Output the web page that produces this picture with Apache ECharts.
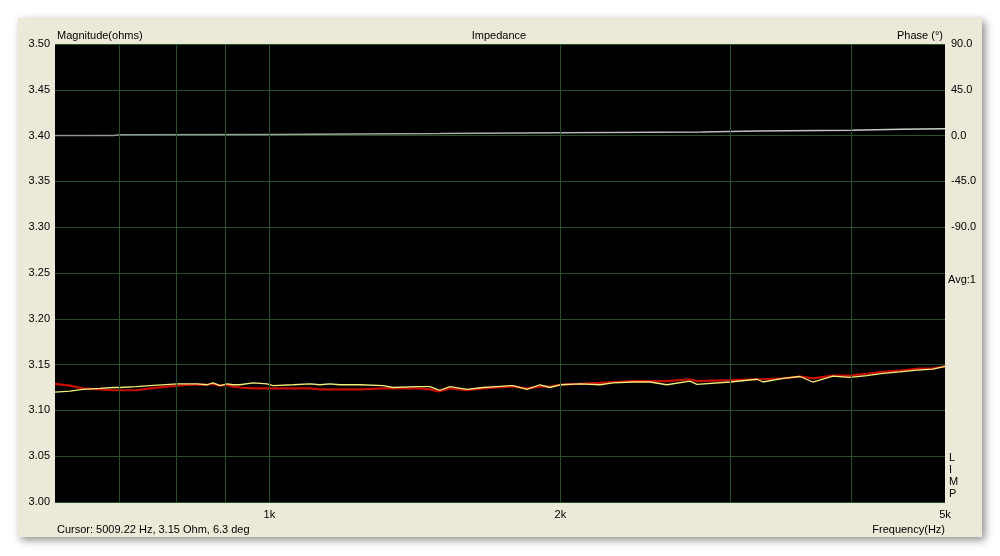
<!DOCTYPE html>
<html>
<head>
<meta charset="utf-8">
<script src="https://cdn.jsdelivr.net/npm/echarts@6/dist/echarts.min.js"></script>
<style>html,body{margin:0;padding:0;background:#fff;}#c{width:1000px;height:556px;}</style>
</head>
<body>
<div id="c"></div>
<script>
// Frequencies (Hz)
var freqs = [600,622,641,668,689,700,729,752,803,828,842,862,874,889,904,917,932,962,994,1009,1058,1102,1128,1155,1183,1212,1241,1311,1342,1421,1466,1491,1501,1537,1601,1663,1720,1774,1787,1847,1905,1951,1998,2096,2198,2267,2378,2476,2578,2723,2769,2996,3195,3241,3399,3539,3650,3828,3986,4151,4312,4491,4676,4857,5000];
// Magnitude (ohms) – yellow trace
var magYellow = [3.120,3.121,3.123,3.124,3.125,3.125,3.126,3.127,3.129,3.129,3.129,3.128,3.130,3.127,3.129,3.128,3.128,3.130,3.129,3.127,3.128,3.129,3.128,3.129,3.128,3.128,3.128,3.127,3.125,3.126,3.126,3.123,3.122,3.126,3.123,3.125,3.126,3.127,3.127,3.123,3.128,3.125,3.128,3.129,3.128,3.130,3.131,3.131,3.128,3.132,3.1285,3.131,3.134,3.131,3.135,3.137,3.131,3.1375,3.136,3.138,3.1405,3.142,3.144,3.145,3.148];
// Magnitude (ohms) – red trace
var magRed = [3.129,3.127,3.124,3.123,3.122,3.122,3.122,3.124,3.127,3.128,3.128,3.128,3.129,3.127,3.128,3.126,3.125,3.124,3.124,3.124,3.124,3.124,3.123,3.123,3.123,3.123,3.123,3.124,3.124,3.124,3.123,3.121,3.121,3.124,3.122,3.124,3.125,3.126,3.126,3.124,3.126,3.126,3.128,3.129,3.130,3.131,3.132,3.132,3.132,3.134,3.132,3.133,3.134,3.134,3.135,3.137,3.135,3.138,3.138,3.140,3.142,3.1435,3.1455,3.146,3.148];
// Phase (deg)
var phaseFreqs = [600,690,700,1000,1500,2000,2800,3200,4000,4500,5000];
var phaseVals = [0,0,0.8,1.2,2.0,2.8,3.6,4.6,5.3,6.2,6.8];
// Grid lines / tick labels
var freqGrid = [700,800,900,1000,2000,3000,4000];
var freqLabels = [1000,2000,5000];

var chart = echarts.init(document.getElementById('c'), null, {renderer:'canvas'});
var FONT = 'Liberation Sans, Arial, sans-serif';
var GRIDC = '#24502a';
function pairs(xs, ys){ return xs.map(function(x,i){return [x, ys[i]];}); }

chart.setOption({
  animation:false,
  backgroundColor:'#ffffff',
  textStyle:{fontFamily:FONT},
  graphic:[
    {type:'rect', z:-10, shape:{x:18,y:18,width:964,height:519},
     style:{fill:'#ece9d8', shadowBlur:8, shadowColor:'rgba(0,0,0,0.45)', shadowOffsetX:3, shadowOffsetY:3}},
    {type:'text', z:10, x:57, y:36, style:{text:'Magnitude(ohms)', fill:'#000', font:'11px '+FONT, verticalAlign:'middle'}},
    {type:'text', z:10, x:499, y:36, style:{text:'Impedance', fill:'#000', font:'11px '+FONT, align:'center', verticalAlign:'middle'}},
    {type:'text', z:10, x:943, y:36, style:{text:'Phase (°)', fill:'#000', font:'11px '+FONT, align:'right', verticalAlign:'middle'}},
    {type:'text', z:10, x:948, y:280, style:{text:'Avg:1', fill:'#000', font:'11px '+FONT, verticalAlign:'middle'}},
    {type:'text', z:10, x:949, y:452, style:{text:'L\nI\nM\nP', fill:'#000', font:'11px '+FONT, lineHeight:12, verticalAlign:'top'}},
    {type:'text', z:10, x:57, y:530, style:{text:'Cursor: 5009.22 Hz, 3.15 Ohm, 6.3 deg', fill:'#000', font:'11px '+FONT, verticalAlign:'middle'}},
    {type:'text', z:10, x:945, y:530, style:{text:'Frequency(Hz)', fill:'#000', font:'11px '+FONT, align:'right', verticalAlign:'middle'}}
  ],
  grid:{left:55, right:55, top:44, bottom:54, show:true, backgroundColor:'#000000', borderWidth:0},
  xAxis:{type:'log', logBase:10, min:600, max:5000,
    axisLine:{show:false}, axisTick:{show:false}, splitLine:{show:false},
    axisLabel:{customValues:freqLabels, showMaxLabel:true, showMinLabel:true, color:'#000', fontSize:11, fontFamily:FONT, margin:7,
      formatter:function(v){return Math.round(v/1000)+'k';}}
  },
  yAxis:[
    {type:'value', min:3.0, max:3.5, interval:0.05,
     axisLine:{show:false}, axisTick:{show:false},
     splitLine:{show:true, lineStyle:{color:GRIDC, width:1}},
     axisLabel:{color:'#000', fontSize:11, fontFamily:FONT, margin:5, formatter:function(v){return v.toFixed(2);}}},
    {type:'value', min:-360, max:90, interval:45, position:'right',
     axisLine:{show:false}, axisTick:{show:false}, splitLine:{show:false},
     axisLabel:{color:'#000', fontSize:11, fontFamily:FONT, margin:6, formatter:function(v){return v>=-90? v.toFixed(1):'';}}}
  ],
  series:[
    {type:'line', name:'grid', data:[], z:1, silent:true,
     markLine:{silent:true, symbol:['none','none'], label:{show:false},
       lineStyle:{color:GRIDC, width:1, type:'solid'},
       data:freqGrid.map(function(f){return {xAxis:f};})}},
    {type:'line', name:'Phase', yAxisIndex:1, data:pairs(phaseFreqs, phaseVals), showSymbol:false, z:2,
     lineStyle:{width:1.5, color:new echarts.graphic.LinearGradient(0,0,1,0,[{offset:0,color:'#8f8f8f'},{offset:1,color:'#cfcfcf'}])}},
    {type:'line', name:'Red', data:pairs(freqs, magRed), showSymbol:false, z:3,
     lineStyle:{width:2.2, color:'#c80c00'}},
    {type:'line', name:'Yellow', data:pairs(freqs, magYellow), showSymbol:false, z:4,
     lineStyle:{width:1.3, color:'#f2f07a'}}
  ]
});
</script>
</body>
</html>
